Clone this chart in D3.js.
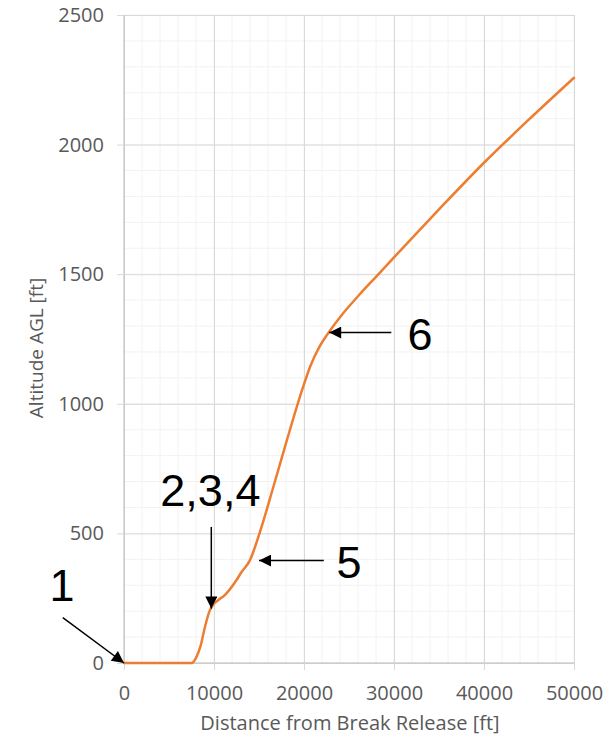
<!DOCTYPE html>
<html>
<head>
<meta charset="utf-8">
<script src="https://cdn.jsdelivr.net/npm/d3@7"></script>
<style>
  body { margin: 0; background: #fff; }
  svg { display: block; }
</style>
</head>
<body>
<svg id="chart" width="614" height="740"></svg>
<script>
// ---- data ----
const distance = [0, 7500, 8000, 8500, 9000, 9500, 9900, 10500, 11200, 12500, 13000, 14000, 15100, 16600, 18100, 19900, 20700, 21800, 22900, 24000, 26000, 28000, 30000, 35000, 40000, 45000, 50000];
const altitude = [0, 0, 20, 65, 140, 200, 225, 243, 262, 320, 348, 397, 505, 680, 860, 1065, 1145, 1225, 1283, 1334, 1415, 1490, 1565, 1750, 1930, 2097, 2258];
const xTicks = [0, 10000, 20000, 30000, 40000, 50000];
const yTicks = [0, 500, 1000, 1500, 2000, 2500];
const xTitle = "Distance from Break Release [ft]";
const yTitle = "Altitude AGL [ft]";
// annotations: label, point on curve (data), arrow tail (data), label anchor (data)
const annLabels = ["1", "2,3,4", "5", "6"];
const annTargets = [[0, 0], [9700, 210], [15000, 395], [22800, 1275]];
const annTails = [[-6800, 175], [9700, 525], [22200, 395], [29700, 1275]];
const annText = [[-6900, 240], [9600, 605], [25000, 327], [32900, 1208]];

const margin = { left: 124, right: 40, top: 15, bottom: 77 };
const W = 614, H = 740;
const svg = d3.select("#chart");
const x = d3.scaleLinear().domain([0, 50000]).range([margin.left, W - margin.right]);
const y = d3.scaleLinear().domain([0, 2500]).range([H - margin.bottom, margin.top]);

const font = "'Open Sans', 'DejaVu Sans', sans-serif";

// minor gridlines
const g = svg.append("g");
g.selectAll(".mx").data(d3.range(0, 50001, 2000)).enter().append("line")
  .attr("x1", d => x(d)).attr("x2", d => x(d)).attr("y1", y(0)).attr("y2", y(2500))
  .attr("stroke", "#f2f2f2").attr("stroke-width", 1);
g.selectAll(".my").data(d3.range(0, 2501, 100)).enter().append("line")
  .attr("x1", x(0)).attr("x2", x(50000)).attr("y1", d => y(d)).attr("y2", d => y(d))
  .attr("stroke", "#f2f2f2").attr("stroke-width", 1);

// major gridlines via axes
const xAxis = d3.axisBottom(x).tickValues(xTicks).tickSize(-(y(0) - y(2500))).tickFormat("");
const yAxis = d3.axisLeft(y).tickValues(yTicks).tickSize(-(x(50000) - x(0))).tickFormat("");
svg.append("g").attr("transform", `translate(0,${y(0)})`).call(xAxis)
  .call(s => s.select(".domain").remove())
  .call(s => s.selectAll("line").attr("stroke", "#d9d9d9"));
svg.append("g").attr("transform", `translate(${x(0)},0)`).call(yAxis)
  .call(s => s.select(".domain").remove())
  .call(s => s.selectAll("line").attr("stroke", "#d9d9d9"));

// tick marks + labels
const xa = svg.append("g").attr("transform", `translate(0,${y(0)})`)
  .call(d3.axisBottom(x).tickValues(xTicks).tickSize(7).tickPadding(16).tickFormat(d3.format("d")));
xa.select(".domain").attr("stroke", "#bfbfbf").attr("d", `M${x(0)},0H${x(50000)}`);
xa.selectAll("line").attr("stroke", "#d9d9d9");
xa.selectAll("text").attr("fill", "#595959").style("font-family", font).style("font-size", "20px");

const ya = svg.append("g").attr("transform", `translate(${x(0)},0)`)
  .call(d3.axisLeft(y).tickValues(yTicks).tickSize(7).tickPadding(13).tickFormat(d3.format("d")));
ya.select(".domain").attr("stroke", "#bfbfbf").attr("d", `M0,${y(0)}V${y(2500)}`);
ya.selectAll("line").attr("stroke", "#d9d9d9");
ya.selectAll("text").attr("fill", "#595959").style("font-family", font).style("font-size", "20px");

// axis titles
svg.append("text").attr("x", (x(0) + x(50000)) / 2 + 1).attr("y", 730)
  .attr("text-anchor", "middle").attr("fill", "#595959")
  .style("font-family", font).style("font-size", "20px").text(xTitle);
svg.append("text").attr("transform", `translate(43,${(y(0) + y(2500)) / 2 + 9}) rotate(-90)`)
  .attr("text-anchor", "middle").attr("fill", "#595959")
  .style("font-family", font).style("font-size", "19px").text(yTitle);

// series line
const pts = distance.map((d, i) => [d, altitude[i]]);
const line = d3.line().x(d => x(d[0])).y(d => y(d[1])).curve(d3.curveMonotoneX);
svg.append("path").datum(pts).attr("d", line)
  .attr("fill", "none").attr("stroke", "#ED7D31").attr("stroke-width", 2.5)
  .attr("stroke-linejoin", "round").attr("stroke-linecap", "round");

// arrows
svg.append("defs").append("marker").attr("id", "ah")
  .attr("viewBox", "0 0 10 10").attr("refX", 10).attr("refY", 5)
  .attr("markerWidth", 14).attr("markerHeight", 12).attr("markerUnits", "userSpaceOnUse")
  .attr("orient", "auto")
  .append("path").attr("d", "M0,0L10,5L0,10z").attr("fill", "#000");

annLabels.forEach((lab, i) => {
  svg.append("line")
    .attr("x1", x(annTails[i][0])).attr("y1", y(annTails[i][1]))
    .attr("x2", x(annTargets[i][0])).attr("y2", y(annTargets[i][1]))
    .attr("stroke", "#000").attr("stroke-width", 1.5).attr("marker-end", "url(#ah)");
  svg.append("text").attr("x", x(annText[i][0])).attr("y", y(annText[i][1]))
    .attr("text-anchor", "middle").attr("fill", "#000")
    .style("font-family", "'Liberation Sans', Arial, sans-serif").style("font-size", "45px")
    .text(lab);
});
</script>
</body>
</html>
